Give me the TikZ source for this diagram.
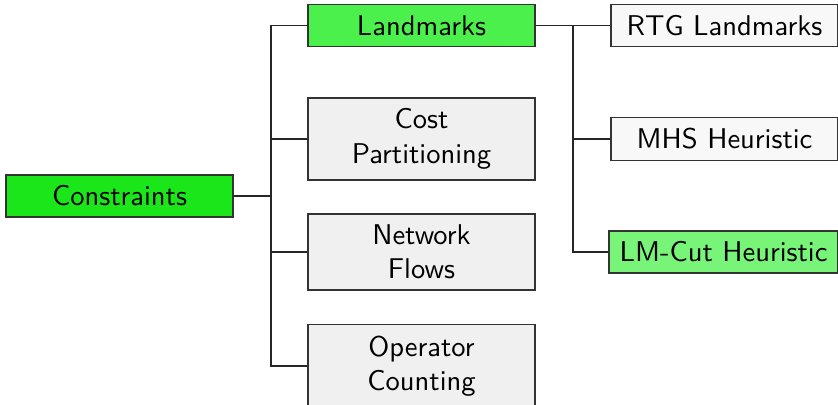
\documentclass[tikz,border=0pt]{standalone}
\usepackage{fontspec}
\definecolor{cCon}{HTML}{1AE61A}
\definecolor{cLand}{HTML}{4CF04C}
\definecolor{cLM}{HTML}{78F578}
\definecolor{cGray}{HTML}{F0F0F0}
\definecolor{cWhite}{HTML}{F8F8F8}
\begin{document}
\begin{tikzpicture}[x=0.35pt,y=-0.35pt,font=\sffamily,
  box/.style={draw=black!80, line width=0.45pt, minimum width=79.45pt, minimum height=13.65pt, align=center, inner xsep=2pt, inner ysep=3.8pt},
  link/.style={draw=black!85, line width=0.45pt}]
\useasboundingbox (0,0) rectangle (838,405);
\node[box, fill=cCon] (con) at (119.5,196) {Constraints};
\node[box, fill=cLand] (land) at (421.5,25.5) {Landmarks};
\node[box, fill=cGray] (cost) at (421.5,139) {Cost\\Partitioning};
\node[box, fill=cGray] (net) at (421.5,252) {Network\\Flows};
\node[box, fill=cGray] (op) at (421.5,366) {Operator\\Counting};
\node[box, fill=cWhite] (rtg) at (724.5,25.5) {RTG Landmarks};
\node[box, fill=cWhite] (mhs) at (724.5,139) {MHS Heuristic};
\node[box, fill=cLM, minimum width=80.15pt] (lm) at (723.5,252) {LM-Cut Heuristic};
\coordinate (t1) at (271,196);
\coordinate (t2) at (573,25.5);
\draw[link] (con.east) -- (t1);
\draw[link] (t1) |- (land.west);
\draw[link] (t1) |- (cost.west);
\draw[link] (t1) |- (net.west);
\draw[link] (t1) |- (op.west);
\draw[link] (land.east) -- (t2);
\draw[link] (t2) -- (rtg.west);
\draw[link] (t2) |- (mhs.west);
\draw[link] (t2) |- (lm.west);
\end{tikzpicture}
\end{document}
